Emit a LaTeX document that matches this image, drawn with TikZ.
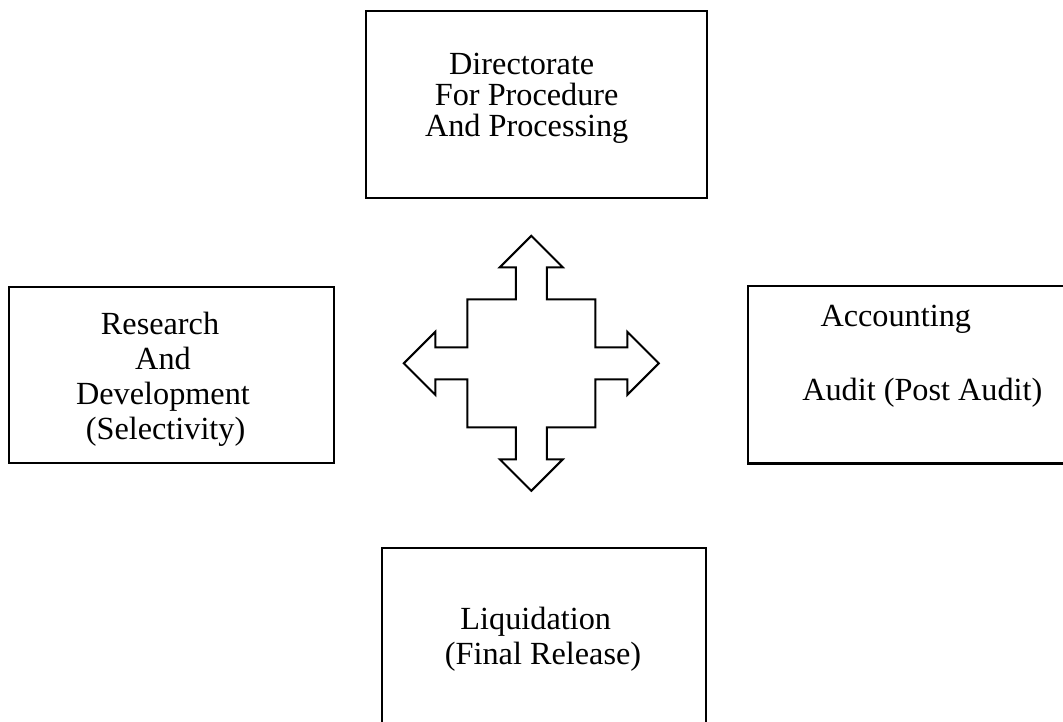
\documentclass[tikz,border=0pt]{standalone}
\usepackage{fontspec}
\setmainfont{Liberation Serif}
\begin{document}
\begin{tikzpicture}[
    x=0.372pt, y=-0.372pt,
    unit box/.style={rectangle, draw, line width=0.8pt, inner sep=0pt, outer sep=0pt},
    box text/.style={inner sep=0pt, anchor=north, align=center}
]
\useasboundingbox (0,0) rectangle (1063,721);
\clip (0,0) rectangle (1063,721);

% the four units
\node[unit box, minimum width=341*0.372pt, minimum height=187*0.372pt] (directorate) at (536.5,104.5) {};
\node[unit box, minimum width=325*0.372pt, minimum height=176*0.372pt] (research) at (171.5,375) {};
\node[unit box, minimum width=330*0.372pt, minimum height=177.5*0.372pt] (accounting) at (913,374.75) {};
\node[unit box, minimum width=324*0.372pt, minimum height=190*0.372pt] (liquidation) at (544,643) {};

\node[box text, font=\fontsize{12}{11.5}\selectfont] (directorate text) at (526.7,53)
    {Directorate\hspace*{3.7pt}\\For Procedure\\And Processing};
\node[box text, font=\fontsize{12}{13}\selectfont] (research text) at (163,311.3)
    {Research\hspace*{2.2pt}\\And\hspace*{7.4pt}\\Development\\\hspace*{1.9pt}(Selectivity)};
\node[box text, anchor=north west, align=left, font=\fontsize{12}{13.5}\selectfont] (accounting text) at (801.7,304.7)
    {\hspace*{6.8pt}Accounting\\[14pt]Audit (Post Audit)};
\node[box text, font=\fontsize{12}{13}\selectfont] (liquidation text) at (543,606.3)
    {Liquidation\hspace*{5.4pt}\\(Final Release)};

% four-way arrow in the middle
\coordinate (hub) at (531.3,363.3);
\draw[line width=0.75pt, line join=miter, shift={(hub)}]
    (0,-127.5) -- (31.5,-96) -- (15.5,-96) -- (15.5,-64) -- (64,-64) -- (64,-16)
    -- (96,-16) -- (96,-31.5) -- (127.5,0) -- (96,31.5) -- (96,16) -- (64,16)
    -- (64,64) -- (15.5,64) -- (15.5,96) -- (31.5,96) -- (0,127.5) -- (-31.5,96)
    -- (-15.5,96) -- (-15.5,64) -- (-64,64) -- (-64,16) -- (-96,16) -- (-96,31.5)
    -- (-127.5,0) -- (-96,-31.5) -- (-96,-16) -- (-64,-16) -- (-64,-64)
    -- (-15.5,-64) -- (-15.5,-96) -- (-31.5,-96) -- cycle;
\end{tikzpicture}
\end{document}
